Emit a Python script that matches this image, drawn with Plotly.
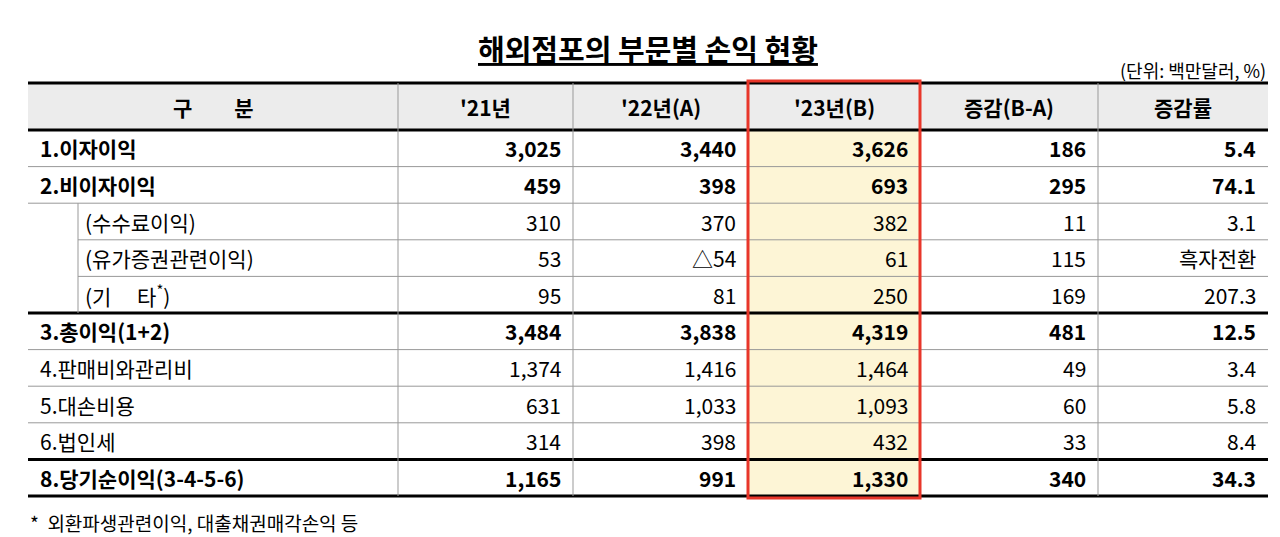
import plotly.graph_objects as go

# 표 데이터
headers = ["구　　분", "'21년", "'22년(A)", "'23년(B)", "증감(B-A)", "증감률"]
labels = ["1.이자이익", "2.비이자이익", "(수수료이익)", "(유가증권관련이익)", "(기　 타<sup>*</sup>)",
          "3.총이익(1+2)", "4.판매비와관리비", "5.대손비용", "6.법인세", "8.당기순이익(3-4-5-6)"]
y21 = ["3,025", "459", "310", "53", "95", "3,484", "1,374", "631", "314", "1,165"]
y22 = ["3,440", "398", "370", "△54", "81", "3,838", "1,416", "1,033", "398", "991"]
y23 = ["3,626", "693", "382", "61", "250", "4,319", "1,464", "1,093", "432", "1,330"]
diff = ["186", "295", "11", "115", "169", "481", "49", "60", "33", "340"]
rate = ["5.4", "74.1", "3.1", "흑자전환", "207.3", "12.5", "3.4", "5.8", "8.4", "34.3"]
bold_rows = [0, 1, 5, 9]
sub_rows = [2, 3, 4]

W, H = 1280, 537
FONT = "Noto Sans CJK KR"
top, hdr_h, row_h = 75, 47, 36.6
xs = [20, 390, 565, 740, 912, 1090, 1260]
bottom = top + hdr_h + row_h * 10

shapes, anns = [], []

def line(x0, y0, x1, y1, w=1, c="#999"):
    shapes.append(dict(type="line", x0=x0, y0=y0, x1=x1, y1=y1, line=dict(color=c, width=w)))

# 배경
shapes.append(dict(type="rect", x0=xs[0], x1=xs[-1], y0=top, y1=top + hdr_h,
                   fillcolor="#ececec", line=dict(width=0), layer="below"))
shapes.append(dict(type="rect", x0=xs[3], x1=xs[4], y0=top + hdr_h, y1=bottom,
                   fillcolor="#fdf5d6", line=dict(width=0), layer="below"))

# 가로선
for r in range(1, 10):
    yy = top + hdr_h + row_h * r
    x0 = 70 if r in (3, 4, 5) else xs[0]
    line(x0, yy, xs[-1], yy)
for yy in [top, top + hdr_h, top + hdr_h + row_h * 5, top + hdr_h + row_h * 9, bottom]:
    line(xs[0], yy, xs[-1], yy, w=3, c="black")
# 세로선
for x in xs[1:-1]:
    line(x, top, x, bottom)
line(70, top + hdr_h + row_h * 2, 70, top + hdr_h + row_h * 5)

# 빨간 박스
shapes.append(dict(type="rect", x0=xs[3], x1=xs[4], y0=top - 2, y1=bottom + 2,
                   line=dict(color="#e8362a", width=3)))

def text(t, x, y, anchor, size=21, bold=False):
    if bold:
        t = "<b>" + t + "</b>"
    anns.append(dict(text=t, x=x, y=y, xanchor=anchor, yanchor="middle", showarrow=False,
                     font=dict(family=FONT, size=size, color="black")))

for c, h in enumerate(headers):
    text(h, (xs[c] + xs[c + 1]) / 2, top + hdr_h / 2, "center", bold=True)

cols = [y21, y22, y23, diff, rate]
for r in range(10):
    yc = top + hdr_h + row_h * (r + 0.5)
    b = r in bold_rows
    text(labels[r], 75 if r in sub_rows else 30, yc, "left", bold=b)
    for c, col in enumerate(cols):
        text(col[r], xs[c + 2] - 10, yc, "right", bold=b)

text("해외점포의 부문별 손익 현황", 640, 40, "center", size=29, bold=True)
anns[-1]["text"] = "<b><u>해외점포의 부문별 손익 현황</u></b>"
text("(단위: 백만달러, %)", xs[-1], 62, "right", size=18)
text("*  외환파생관련이익, 대출채권매각손익 등", xs[0], 514, "left", size=19)

fig = go.Figure()
fig.update_layout(
    width=W, height=H, margin=dict(l=0, r=0, t=0, b=0),
    paper_bgcolor="white", plot_bgcolor="white",
    xaxis=dict(range=[0, W], visible=False, fixedrange=True),
    yaxis=dict(range=[H, 0], visible=False, fixedrange=True),
    shapes=shapes, annotations=anns, showlegend=False,
)
fig.write_html("out.html")
